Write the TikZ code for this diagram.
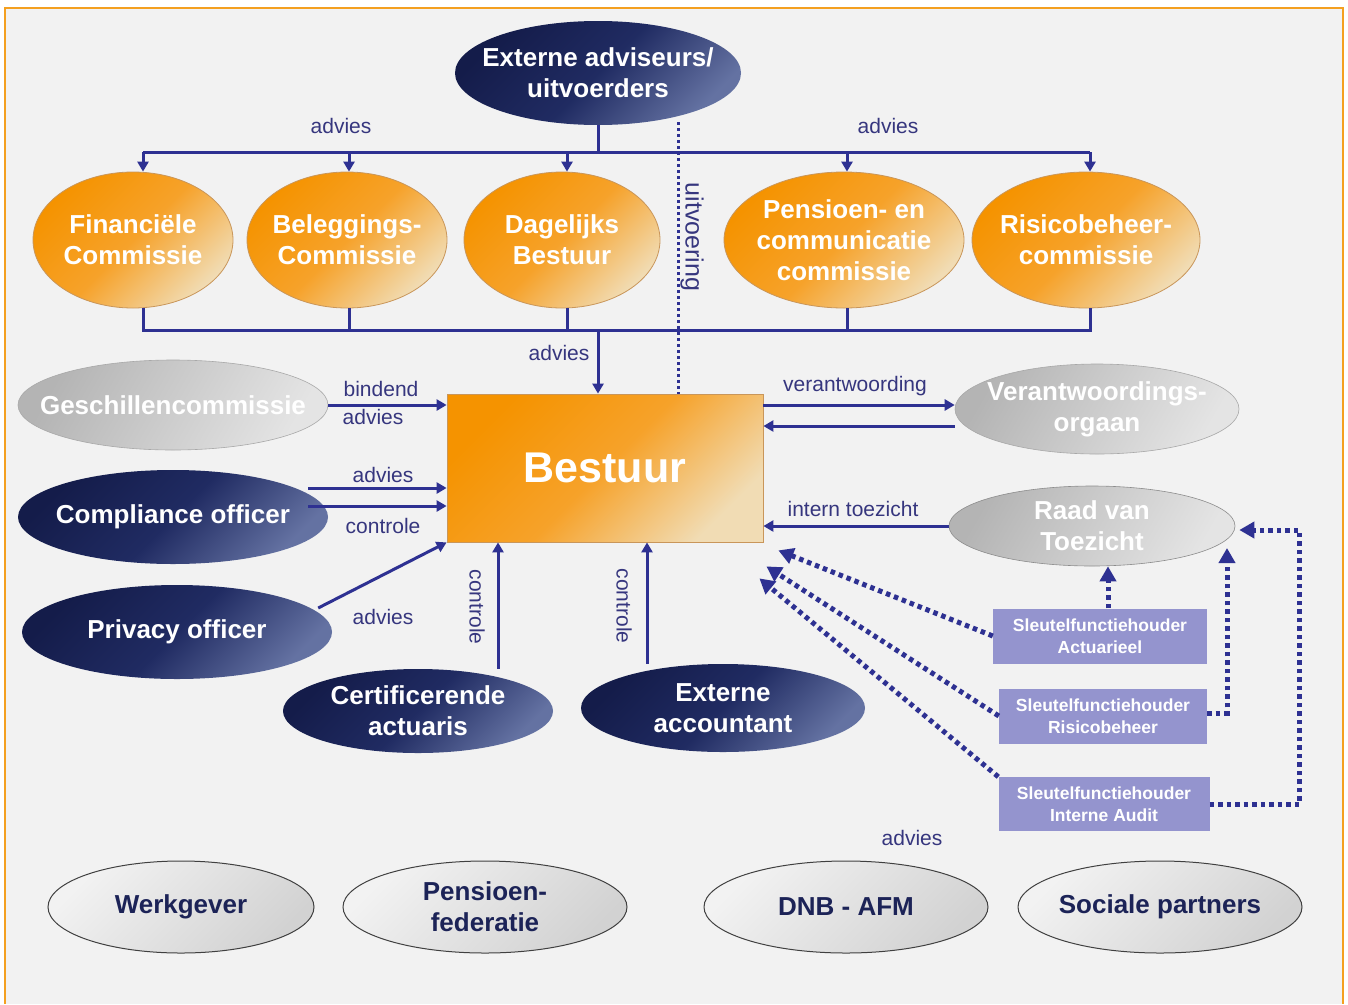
\documentclass[tikz,border=0pt]{standalone}
\usepackage{fontspec}
\setmainfont{Liberation Sans}
\usetikzlibrary{arrows.meta,shapes.geometric}
\definecolor{navy}{HTML}{2E3192}
\definecolor{labc}{HTML}{36367E}
\definecolor{nvA}{HTML}{141C4A}
\definecolor{nvB}{HTML}{202B62}
\definecolor{nvC}{HTML}{6472A2}
\definecolor{orA}{HTML}{F59300}
\definecolor{orB}{HTML}{F6A22A}
\definecolor{orC}{HTML}{F1DCB4}
\definecolor{orD}{HTML}{C9965A}
\definecolor{grA}{HTML}{B4B4B4}
\definecolor{grC}{HTML}{E4E4E4}
\definecolor{grD}{HTML}{A8A8A8}
\definecolor{ltA}{HTML}{F2F2F2}
\definecolor{ltC}{HTML}{D2D2D2}
\definecolor{lav}{HTML}{9494CE}
\definecolor{bg}{HTML}{F2F2F2}
\definecolor{frm}{HTML}{F4A020}
\definecolor{btxt}{HTML}{1C2357}
\tikzset{
  every node/.style={inner sep=0pt},
  big/.style={font=\fontsize{26}{31}\selectfont\bfseries, align=center},
  ell/.style={ellipse, big, inner xsep=-100pt, inner ysep=-30pt},
  navyE/.style={ell, text=white, top color=nvA, bottom color=nvC, middle color=nvB, shading angle=45},
  orangeE/.style={ell, text=white, draw=orD, line width=0.8pt, top color=orA, bottom color=orC, middle color=orB, shading angle=45},
  grayE/.style={ell, text=white, draw=grD, line width=0.6pt, top color=grA, bottom color=grC, shading angle=60},
  lightE/.style={ell, text=btxt, draw=black!75, line width=1pt, top color=ltA, bottom color=ltC, shading angle=45},
  sbox/.style={rectangle, fill=lav, text=white, font=\fontsize{17.5}{22}\selectfont\bfseries, align=center},
  lab/.style={text=labc, font=\fontsize{21}{24}\selectfont},
  conn/.style={draw=navy, line width=3pt},
  arr/.style={-{Triangle[length=10pt,width=11pt]}},
  dotarr/.style={draw=navy, line width=5pt, dash pattern=on 4.5pt off 4pt, -{Triangle[length=15pt,width=16pt]}},
  dotline/.style={draw=navy, line width=3pt, dash pattern=on 3pt off 3pt}
}
\begin{document}
\begin{tikzpicture}[x=1pt,y=-1pt]
\useasboundingbox (0,0) rectangle (1348,1004);
\fill[white] (0,0) rectangle (1348,1004);
\fill[bg] (5,8) rectangle (1343,1004);
\draw[frm, line width=2pt] (5,1004) -- (5,8) -- (1343,8) -- (1343,1004);

% top
\node[navyE, minimum width=286pt, minimum height=104pt] (ext) at (598,73) {Externe adviseurs/\\uitvoerders};
\node[orangeE, minimum width=200pt, minimum height=136pt] (fin) at (133,240) {Financiële\\Commissie};
\node[orangeE, minimum width=200pt, minimum height=136pt] (bel) at (347,240) {Beleggings-\\Commissie};
\node[orangeE, minimum width=196pt, minimum height=136pt] (dag) at (562,240) {Dagelijks\\Bestuur};
\node[orangeE, minimum width=240pt, minimum height=136pt] (pen) at (844,240) {Pensioen- en\\communicatie\\commissie};
\node[orangeE, minimum width=228pt, minimum height=136pt] (ris) at (1086,240) {Risicobeheer-\\commissie};

% Bestuur
\node[rectangle, draw=orD, line width=0.8pt, top color=orA, bottom color=orC, middle color=orB, shading angle=45,
      minimum width=316pt, minimum height=148pt, text=white, font=\fontsize{43}{48}\selectfont\bfseries] (bestuur) at (605,468) {Bestuur};

% left
\node[grayE, minimum width=310pt, minimum height=90pt] (gesch) at (173,405) {Geschillencommissie};
\node[navyE, minimum width=310pt, minimum height=94pt] (comp) at (173,517) {Compliance officer};
\node[navyE, minimum width=310pt, minimum height=94pt] (priv) at (177,632) {Privacy officer};
\node[navyE, minimum width=270pt, minimum height=84pt] (cert) at (418,711) {Certificerende\\actuaris};
\node[navyE, minimum width=284pt, minimum height=88pt] (acc) at (723,708) {Externe\\accountant};

% right
\node[grayE, minimum width=284pt, minimum height=90pt] (vo) at (1097,409) {Verantwoordings-\\orgaan};
\node[grayE, draw=black!45, minimum width=286pt, minimum height=80pt] (raad) at (1092,526) {Raad van\\Toezicht};
\node[sbox, minimum width=214pt, minimum height=55pt] (sa) at (1100,636) {Sleutelfunctiehouder\\Actuarieel};
\node[sbox, minimum width=208pt, minimum height=55pt] (sr) at (1103,716) {Sleutelfunctiehouder\\Risicobeheer};
\node[sbox, minimum width=211pt, minimum height=54pt] (si) at (1104,804) {Sleutelfunctiehouder\\Interne Audit};

% bottom
\node[lightE, minimum width=266pt, minimum height=92pt] (werk) at (181,907) {Werkgever};
\node[lightE, minimum width=284pt, minimum height=92pt] (pfed) at (485,907) {Pensioen-\\federatie};
\node[lightE, minimum width=284pt, minimum height=92pt] (dnb) at (846,907) {DNB - AFM};
\node[lightE, minimum width=284pt, minimum height=92pt] (soc) at (1160,907) {Sociale partners};

% labels
\node[lab] (l1) at (341,126) {advies};
\node[lab] (l2) at (888,126) {advies};
\node[lab] (l3) at (559,353) {advies};
\node[lab] (l4) at (381,389) {bindend};
\node[lab] (l5) at (373,417) {advies};
\node[lab] (l6) at (383,475) {advies};
\node[lab] (l7) at (383,526) {controle};
\node[lab] (l8) at (383,617) {advies};
\node[lab, rotate=-90] (l9) at (477,607) {controle};
\node[lab, rotate=-90] (l10) at (624,606) {controle};
\node[lab] (l11) at (855,386) {verantwoording};
\node[lab] (l12) at (853,509) {intern toezicht};
\node[lab, rotate=-90, font=\fontsize{25}{28}\selectfont] (l13) at (692,237) {uitvoering};
\node[lab] (l14) at (912,838) {advies};

% coordinates
\coordinate (busT) at (601,152);
\coordinate (busB) at (598,330);
\coordinate (finT) at ([xshift=10pt]fin.north);
\coordinate (finB) at ([xshift=10pt]fin.south);
\coordinate (belT) at ([xshift=2pt]bel.north);
\coordinate (belB) at ([xshift=2pt]bel.south);
\coordinate (dagT) at ([xshift=5pt]dag.north);
\coordinate (dagB) at ([xshift=5pt]dag.south);
\coordinate (penT) at ([xshift=3pt]pen.north);
\coordinate (penB) at ([xshift=3pt]pen.south);
\coordinate (risT) at ([xshift=4pt]ris.north);
\coordinate (risB) at ([xshift=4pt]ris.south);
\coordinate (uit) at (678,122);
\coordinate (comp1) at ([shift={(-20,-29)}]comp.east);
\coordinate (comp2) at ([shift={(-20,-11)}]comp.east);
\coordinate (priv1) at ([shift={(-14,-24)}]priv.east);

% top bus
\draw[conn] (ext.south) -- (ext.south |- busT);
\draw[conn] (finT |- busT) -- (risT |- busT);
\foreach \c in {finT,belT,dagT,penT,risT}
  \draw[conn,arr] (\c |- busT) -- (\c);

% bottom bus
\draw[conn] (finB) -- (finB |- busB) -- (risB |- busB) -- (risB);
\foreach \c in {belB,dagB,penB}
  \draw[conn] (\c) -- (\c |- busB);
\draw[conn,arr] (busB) -- (busB |- bestuur.north);

% uitvoering
\draw[dotline] (uit) -- (uit |- bestuur.north);

% left connectors
\draw[conn,arr] (gesch.east) -- (gesch.east -| bestuur.west);
\draw[conn,arr] (comp1) -- (comp1 -| bestuur.west);
\draw[conn,arr] (comp2) -- (comp2 -| bestuur.west);
\draw[conn,arr] (priv1) -- (bestuur.south west);
\draw[conn,arr] ([xshift=80pt]cert.north) -- ([xshift=80pt]cert.north |- bestuur.south);
\draw[conn,arr] ([xshift=-76pt]acc.north) -- ([xshift=-76pt]acc.north |- bestuur.south);

% right connectors
\draw[conn,arr] ([yshift=4pt]vo.west -| bestuur.east) -- ([yshift=4pt]vo.west);
\draw[conn,arr] ([yshift=-17pt]vo.west) -- ([yshift=-17pt]vo.west -| bestuur.east);
\draw[conn,arr] (raad.west) -- (raad.west -| bestuur.east);

% dotted
\draw[dotarr] (sa.west) -- ([shift={(15,8)}]bestuur.south east);
\draw[dotarr] (sr.west) -- ([shift={(3,24)}]bestuur.south east);
\draw[dotarr] (si.north west) -- ([shift={(-4,36)}]bestuur.south east);
\draw[dotarr] ([xshift=8pt]sa.north) -- ([xshift=8pt]sa.north |- raad.south);
\draw[dotarr] ([yshift=3pt]sr.east) -| ([shift={(135,22)}]raad.center);
\draw[dotarr] (si.east) -- ++(90,0) |- ([shift={(4,4)}]raad.east);
\end{tikzpicture}
\end{document}
